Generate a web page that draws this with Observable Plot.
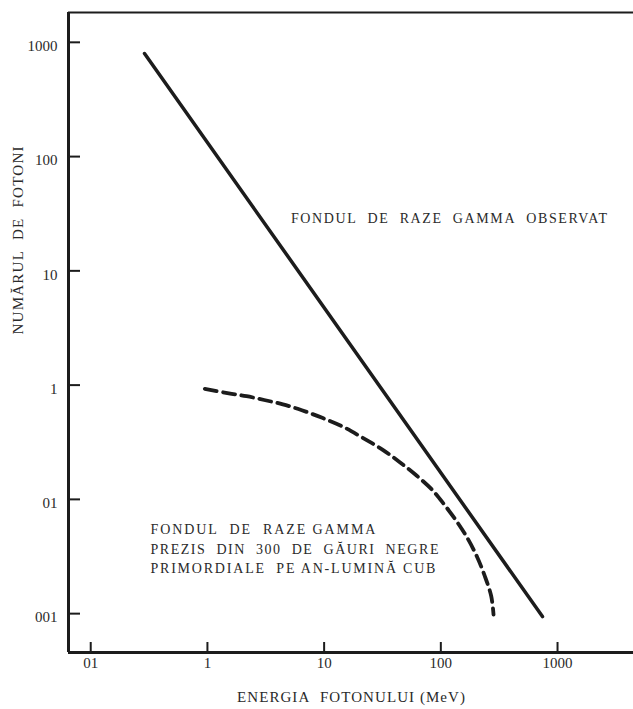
<!DOCTYPE html>
<html><head><meta charset="utf-8">
<script src="https://cdn.jsdelivr.net/npm/d3@7"></script>
<script src="https://cdn.jsdelivr.net/npm/@observablehq/plot@0.6"></script>
</head><body style="margin:0;background:#fff"><div id="chart"></div>
<script>
// Tick values and their printed labels (decimal points lost in the original print)
const xTicks = [0.1, 1, 10, 100, 1000];
const xTickLabels = ["01", "1", "10", "100", "1000"];
const yTicks = [1000, 100, 10, 1, 0.1, 0.01];
const yTickLabels = ["1000", "100", "10", "1", "01", "001"];

// Observed gamma-ray background (straight power law)
const observedEnergy = [0.289, 743];
const observedCount = [798, 0.00943];

// Predicted background from primordial black holes (dashed curve)
const predictedEnergy = [0.950, 1.525, 2.163, 3.067, 4.428, 6.442, 9.632, 14.58, 21.2, 31.8, 44.5, 61.9, 83.8, 106.9, 136.3, 170.3, 205.1, 236.9, 270.4, 282.9];
const predictedCount  = [0.928, 0.848, 0.800, 0.741, 0.679, 0.603, 0.517, 0.4315, 0.3478, 0.2715, 0.2115, 0.1617, 0.1220, 0.0902, 0.0645, 0.0452, 0.0312, 0.0216, 0.0142, 0.0098];

// Texts
const xLabel = "ENERGIA  FOTONULUI (MeV)";
const yLabel = "NUMĂRUL  DE  FOTONI";
const noteLines = [
  "FONDUL  DE  RAZE  GAMMA  OBSERVAT",
  "FONDUL  DE  RAZE GAMMA",
  "PREZIS  DIN  300  DE  GĂURI  NEGRE",
  "PRIMORDIALE  PE AN-LUMINĂ CUB"
];
const noteEnergy = [5.2, 0.325, 0.325, 0.325];
const noteCount = [28.7, 0.0545, 0.0364, 0.0248];

const xDomain = [0.0645, 4477];
const yDomain = [0.00457, 1824];

// ---- rendering ----
const W = 633, H = 709, mL = 68, mR = 0, mT = 12, mB = 57;
const ink = "#1c1c1c";
const txt = "#2a2a2a";
const serif = "Liberation Serif";
const keepSpaces = s => s.replace(/  /g, "\u00a0 ");
// printed widths of the texts in the original (px)
const textWidths = new Map([
  [noteLines[0], 316], [noteLines[1], 225], [noteLines[2], 288], [noteLines[3], 285],
  [xLabel, 228], [yLabel, 188]
]);

const chart = Plot.plot({
  width: W, height: H,
  marginLeft: mL, marginRight: mR, marginTop: mT, marginBottom: mB,
  x: {type: "log", domain: xDomain, axis: null},
  y: {type: "log", domain: yDomain, axis: null},
  marks: [
    // frame lines: left axis, bottom axis, top border
    Plot.ruleX([xDomain[0]], {stroke: ink, strokeWidth: 3}),
    Plot.ruleY([yDomain[0]], {stroke: ink, strokeWidth: 3}),
    Plot.ruleY([yDomain[1]], {stroke: ink, strokeWidth: 2}),
    // inward ticks
    Plot.tickY(yTicks, {y: d => d, stroke: ink, strokeWidth: 2, insetRight: W - mL - mR - 12}),
    Plot.tickX(xTicks, {x: d => d, stroke: ink, strokeWidth: 2, insetTop: H - mT - mB - 10}),
    // tick labels
    Plot.text(yTicks, {y: d => d, text: (d, i) => yTickLabels[i], frameAnchor: "left", dx: -11, dy: 4,
      textAnchor: "end", fontSize: 15, fontFamily: serif, fill: txt}),
    Plot.text(xTicks, {x: d => d, text: (d, i) => xTickLabels[i], frameAnchor: "bottom", dy: 15,
      fontSize: 15, fontFamily: serif, fill: txt}),
    // axis titles
    Plot.text([xLabel], {text: d => keepSpaces(d), frameAnchor: "bottom", dy: 49, fill: txt,
      fontSize: 15, fontFamily: serif}),
    Plot.text([yLabel], {text: d => keepSpaces(d), frameAnchor: "left", rotate: -90, dx: -50, dy: 2, fill: txt,
      fontSize: 15, fontFamily: serif}),
    // curves
    Plot.line(observedEnergy, {x: observedEnergy, y: observedCount, stroke: ink, strokeWidth: 3.5}),
    Plot.line(predictedEnergy, {x: predictedEnergy, y: predictedCount, stroke: ink, strokeWidth: 3.8,
      strokeDasharray: "12,6.5", curve: "catmull-rom"}),
    // annotations
    Plot.text(noteLines, {x: noteEnergy, y: noteCount, text: d => keepSpaces(d), textAnchor: "start",
      fill: txt, fontSize: 14, fontFamily: serif})
  ]
});
// stretch letter spacing so each text spans its printed width
d3.select(chart).selectAll("text").each(function () {
  const key = this.textContent.replace(/\u00a0/g, " ");
  const w = textWidths.get(key);
  if (w) {
    this.setAttribute("textLength", w);
    this.setAttribute("lengthAdjust", "spacing");
  }
});
document.getElementById("chart").appendChild(chart);
</script>
</body></html>
